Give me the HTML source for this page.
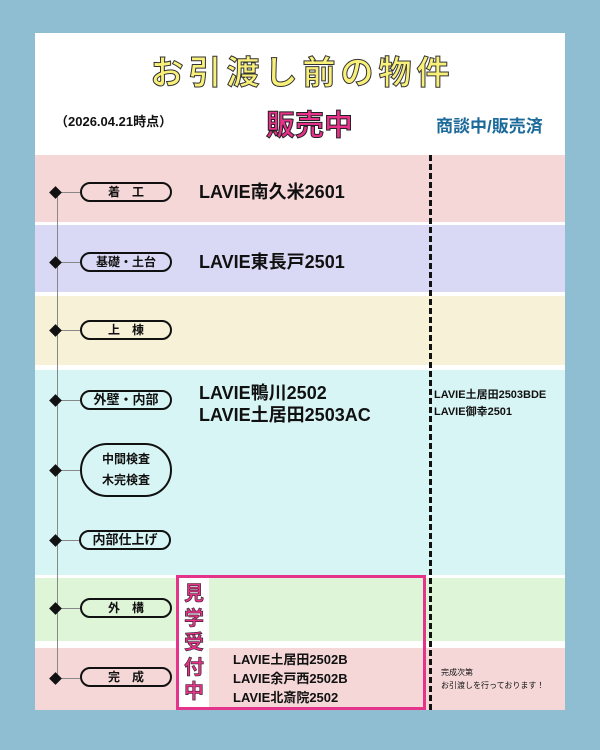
<!DOCTYPE html>
<html><head><meta charset="utf-8"><style>
*{margin:0;padding:0;box-sizing:border-box}
body{width:600px;height:750px;background:#8fbed3;position:relative;overflow:hidden;font-family:"Liberation Sans","Noto Sans CJK JP",sans-serif;font-weight:bold}
.card{position:absolute;left:35px;top:33px;width:530px;height:677px;background:#fff}
.b{position:absolute;left:35px;width:530px}
.a{position:absolute}
.pill{position:absolute;left:80px;width:92px;height:20px;border:2px solid #111;border-radius:10px;font-size:12px;text-align:center;line-height:16px;background:transparent;color:#111}
.dm{position:absolute;left:51px;width:9px;height:9px;background:#111;transform:rotate(45deg)}
.hl{position:absolute;left:57px;width:23px;height:1px;background:#888}
.t{position:absolute;color:#111;white-space:nowrap}
</style></head><body>
<div class="card"></div>
<div class="b" style="top:155px;height:67px;background:#f5d7d8"></div>
<div class="b" style="top:225px;height:67px;background:#d9d9f5"></div>
<div class="b" style="top:296px;height:69px;background:#f7f1d8"></div>
<div class="b" style="top:370px;height:205px;background:#d8f5f5"></div>
<div class="b" style="top:578px;height:63px;background:#def5d8"></div>
<div class="b" style="top:648px;height:62px;background:#f5d7d8"></div>
<div class="t" style="left:0;width:600px;top:46px;text-align:center;font-size:33px;color:#f9f07a;-webkit-text-stroke:1px #333;letter-spacing:5px;padding-left:5px">お引渡し前の物件</div>
<div class="t" style="left:55px;top:111px;font-size:13px">（2026.04.21時点）</div>
<div class="t" style="left:266px;top:102px;font-size:29px;color:#e8318a;-webkit-text-stroke:1px #222">販売中</div>
<div class="t" style="left:436px;top:112px;font-size:17px;color:#1b6a9a">商談中/販売済</div>
<div class="a" style="left:429px;top:155px;height:555px;border-left:3px dashed #111"></div>
<div class="a" style="left:57px;top:190px;width:1px;height:488px;background:#888"></div>
<div class="hl" style="top:192px"></div><div class="dm" style="top:188px"></div><div class="pill" style="top:182px">着　工</div>
<div class="hl" style="top:262px"></div><div class="dm" style="top:258px"></div><div class="pill" style="top:252px">基礎・土台</div>
<div class="hl" style="top:330px"></div><div class="dm" style="top:326px"></div><div class="pill" style="top:320px">上　棟</div>
<div class="hl" style="top:400px"></div><div class="dm" style="top:396px"></div><div class="pill" style="top:390px;font-size:13px">外壁・内部</div>
<div class="hl" style="top:470px"></div><div class="dm" style="top:466px"></div><div class="pill" style="top:443px;height:54px;border-radius:27px;line-height:21px;padding-top:4px;font-size:12px">中間検査<br>木完検査</div>
<div class="hl" style="top:540px"></div><div class="dm" style="top:536px"></div><div class="pill" style="top:530px;left:79px;font-size:13px">内部仕上げ</div>
<div class="hl" style="top:608px"></div><div class="dm" style="top:604px"></div><div class="pill" style="top:598px">外　構</div>
<div class="hl" style="top:678px"></div><div class="dm" style="top:674px"></div><div class="pill" style="top:667px">完　成</div>
<div class="t" style="left:199px;top:178px;font-size:18px">LAVIE南久米2601</div>
<div class="t" style="left:199px;top:248px;font-size:18px">LAVIE東長戸2501</div>
<div class="t" style="left:199px;top:382px;font-size:18px;line-height:22px">LAVIE鴨川2502<br>LAVIE土居田2503AC</div>
<div class="t" style="left:434px;top:387px;font-size:11px;line-height:17px">LAVIE土居田2503BDE<br>LAVIE御幸2501</div>
<div class="a" style="left:176px;top:575px;width:250px;height:135px;border:3px solid #e4358b"></div>
<div class="a" style="left:179px;top:578px;width:30px;height:129px;background:#fff"></div>
<div class="t" style="left:181px;top:582px;font-size:20px;line-height:24.5px;color:#e8318a;-webkit-text-stroke:.6px #222;width:26px;text-align:center;white-space:normal">見<br>学<br>受<br>付<br>中</div>
<div class="t" style="left:233px;top:650px;font-size:13px;line-height:19px">LAVIE土居田2502B<br>LAVIE余戸西2502B<br>LAVIE北斎院2502</div>
<div class="t" style="left:441px;top:666px;font-size:8px;line-height:13px;font-weight:normal">完成次第<br>お引渡しを行っております！</div>
</body></html>
